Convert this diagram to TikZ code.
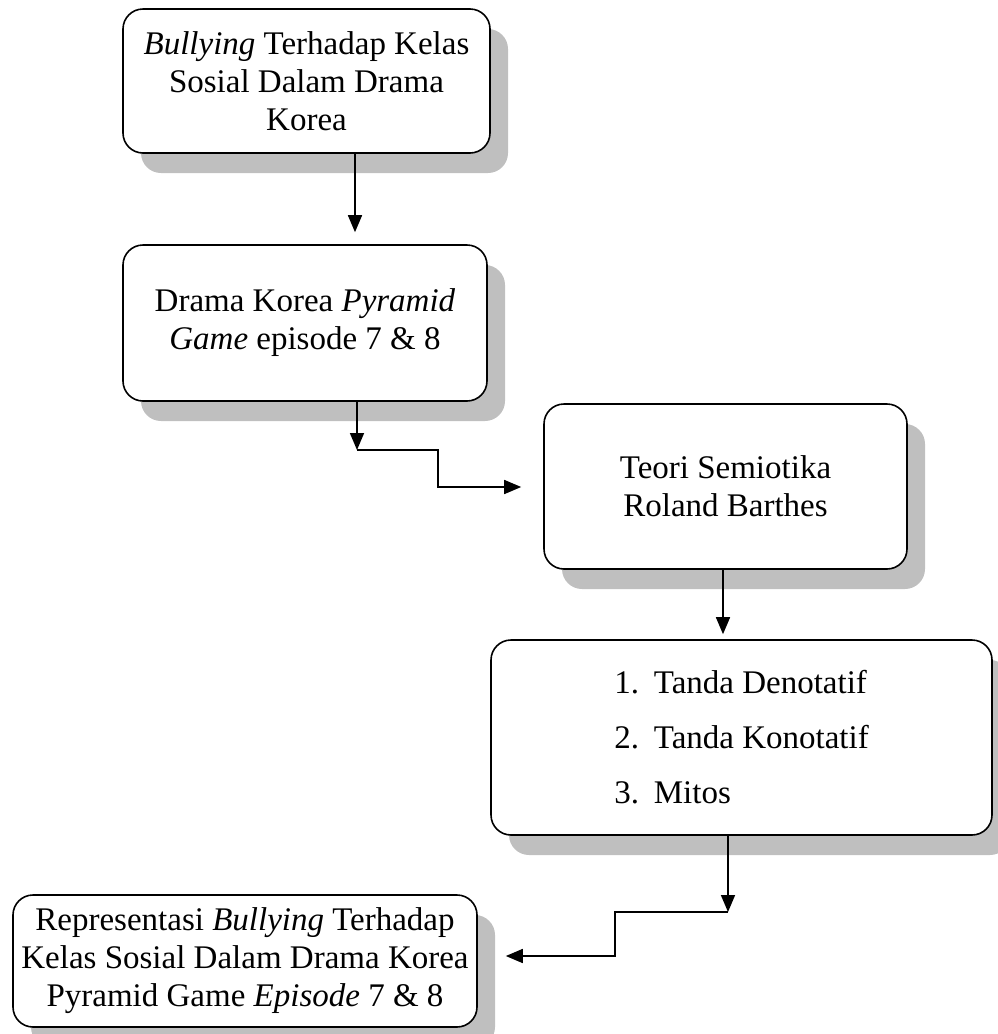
\documentclass[tikz,border=0pt]{standalone}
\usepackage{fontspec}
\setmainfont{Liberation Serif}
\usetikzlibrary{arrows.meta,shadows}
\begin{document}
\begin{tikzpicture}[x=0.5pt, y=-0.5pt,
  box/.style={draw, rounded corners=10pt, fill=white, line width=0.8pt,
    align=center, inner sep=0pt, font=\fontsize{16.5}{19}\selectfont,
    drop shadow={shadow xshift=9pt, shadow yshift=-10pt, fill=black!25, opacity=1}},
  arr/.style={-{Triangle[length=8.5pt,width=7pt]}, line width=0.8pt}]
  \useasboundingbox (0,0) rectangle (997,1034);
  \node[box, minimum width=183.5pt, minimum height=72pt] (judul) at (306.5,81)
    {\textit{Bullying} Terhadap Kelas\\Sosial Dalam Drama\\Korea};
  \node[box, minimum width=182pt, minimum height=78pt] (drama) at (305,323)
    {Drama Korea \textit{Pyramid}\\\textit{Game} episode 7 \& 8};
  \node[box, minimum width=181.5pt, minimum height=82.5pt] (teori) at (725.5,486.5)
    {Teori Semiotika\\Roland Barthes};
  \node[box, align=left, minimum width=250.5pt, minimum height=97.5pt] (tanda) at (741.5,737.5)
    {1.\hspace{0.45em}Tanda Denotatif\\[8.5pt]2.\hspace{0.45em}Tanda Konotatif\\[8.5pt]3.\hspace{0.45em}Mitos};
  \node[box, minimum width=232pt, minimum height=66pt] (hasil) at (245,961)
    {Representasi \textit{Bullying} Terhadap\\Kelas Sosial Dalam Drama Korea\\Pyramid Game \textit{Episode} 7 \& 8};
  \coordinate (b1) at (357,450);
  \coordinate (b2) at (438,487);
  \coordinate (b3) at (728,912);
  \coordinate (b4) at (615,956);
  \draw[arr, shorten >=6pt] (judul.south -| 355,0) -- (drama.north -| 355,0);
  \draw[arr] (drama.south -| b1) -- (b1);
  \draw[arr, shorten >=11pt] (b1) -| (b2) -- (teori.west |- b2);
  \draw[arr, shorten >=2.5pt] (teori.south -| 723,0) -- (tanda.north -| 723,0);
  \draw[arr] (tanda.south -| b3) -- (b3);
  \draw[arr, shorten >=14pt] (b3) -| (b4) -- (hasil.east |- b4);
\end{tikzpicture}
\end{document}
